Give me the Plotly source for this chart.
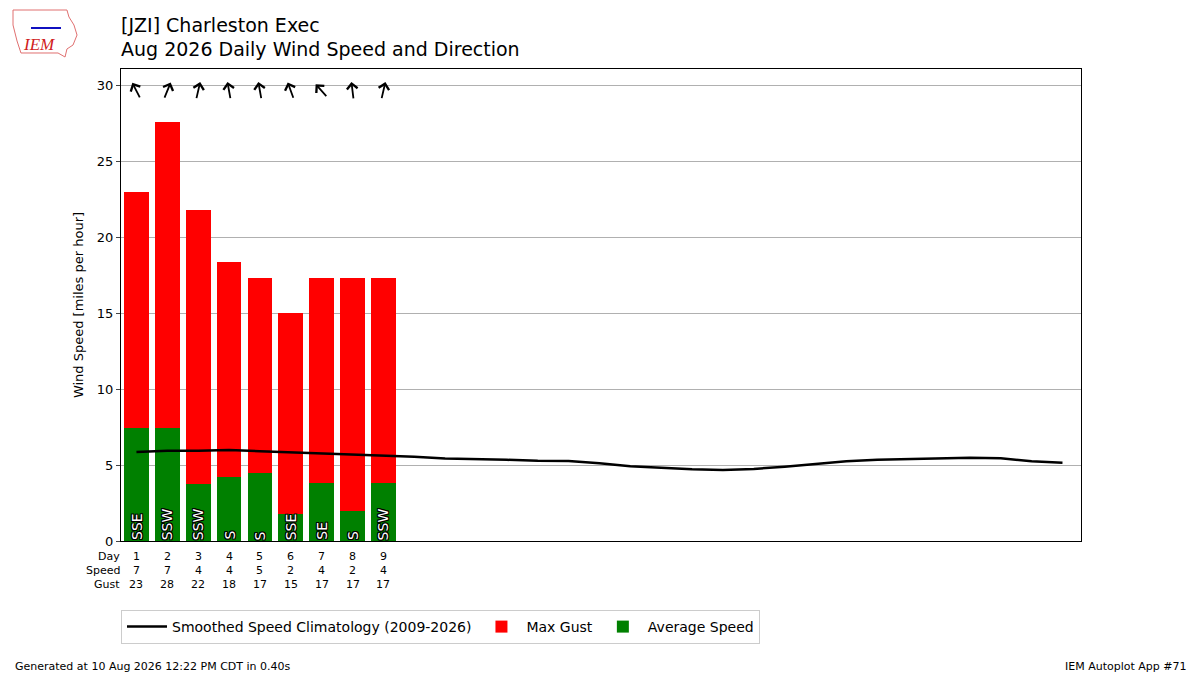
import math
import plotly.graph_objects as go

# observed days so far
days = [1, 2, 3, 4, 5, 6, 7, 8, 9]
max_gust = [23.0, 27.6, 21.8, 18.4, 17.3, 15.0, 17.3, 17.3, 17.3]
avg_speed = [7.45, 7.45, 3.75, 4.2, 4.5, 1.8, 3.85, 2.0, 3.8]
avg_dir_deg = [153, 202, 193, 170, 170, 160, 138, 173, 193]
avg_dir_txt = ['SSE', 'SSW', 'SSW', 'S', 'S', 'SSE', 'SE', 'S', 'SSW']
speed_lbl = [7, 7, 4, 4, 5, 2, 4, 2, 4]
gust_lbl = [23, 28, 22, 18, 17, 15, 17, 17, 17]

# smoothed climatology for whole month
clim_days = list(range(1, 32))
clim_speed = [5.87, 5.95, 5.95, 6.0, 5.92, 5.85, 5.75, 5.68, 5.6, 5.55,
              5.43, 5.4, 5.35, 5.28, 5.27, 5.12, 4.92, 4.82, 4.72, 4.68,
              4.75, 4.9, 5.08, 5.25, 5.35, 5.4, 5.45, 5.48, 5.45, 5.25, 5.15]

FONT = 'DejaVu Sans'
OFF = 7  # page body margin shifts the figure


# screen pixel -> paper coords (plot area is 120..1080 x 68..540 on screen)
def pxx(sx):
    return (sx - 120) / 960


def pxy(sy):
    return (540 - sy) / 472


fig = go.Figure()
fig.add_trace(go.Scatter(x=clim_days, y=clim_speed, mode='lines',
                         line=dict(color='black', width=2.5),
                         name='Smoothed Speed Climatology (2009-2026)'))
fig.add_trace(go.Bar(x=days, y=max_gust, marker=dict(color='#ff0000', line_width=0),
                     width=0.8, name='Max Gust'))
fig.add_trace(go.Bar(x=days, y=avg_speed, marker=dict(color='#008000', line_width=0),
                     width=0.8, name='Average Speed'))

# direction arrows near the top + direction labels in bars
px_x = 960 / 31.1
px_y = 472 / 31.1
half = 9
stroke = ('-1px -1px 0 #000, 1px -1px 0 #000, -1px 1px 0 #000, 1px 1px 0 #000, '
          '0 1px 0 #000, 0 -1px 0 #000, 1px 0 0 #000, -1px 0 0 #000')
for d, deg, txt in zip(days, avg_dir_deg, avg_dir_txt):
    dx = -math.sin(math.radians(deg))
    dy = -math.cos(math.radians(deg))
    fig.add_annotation(x=d + half * dx / px_x, y=29.66 + half * dy / px_y,
                       ax=-2 * half * dx, ay=2 * half * dy, text='', showarrow=True,
                       arrowhead=4, arrowsize=1.15, arrowwidth=1.8, arrowcolor='black')
    fig.add_annotation(x=d, y=0, yanchor='bottom', text=txt, showarrow=False,
                       textangle=-90, borderpad=0,
                       font=dict(family=FONT, size=14, color='white', shadow=stroke))

# table under the axis
rows = [('Day', days), ('Speed', speed_lbl), ('Gust', gust_lbl)]
for i, (lbl, vals) in enumerate(rows):
    yy = pxy(555 + i * 14)
    fig.add_annotation(x=pxx(121), xref='paper', y=yy, yref='paper', text=lbl,
                       xanchor='right', yanchor='middle', showarrow=False,
                       font=dict(family=FONT, size=11, color='black'))
    for d, v in zip(days, vals):
        fig.add_annotation(x=d, y=yy, yref='paper', text=str(v), showarrow=False,
                           xanchor='center', yanchor='middle',
                           font=dict(family=FONT, size=11, color='black'))

# titles
fig.add_annotation(x=pxx(118), y=pxy(24), xref='paper', yref='paper', xanchor='left',
                   yanchor='middle', text='[JZI] Charleston Exec', showarrow=False,
                   font=dict(family=FONT, size=19, color='black'))
fig.add_annotation(x=pxx(118), y=pxy(48), xref='paper', yref='paper', xanchor='left',
                   yanchor='middle', text='Aug 2026 Daily Wind Speed and Direction',
                   showarrow=False, font=dict(family=FONT, size=19, color='black'))

# footer
fig.add_annotation(x=pxx(12), y=pxy(665), xref='paper', yref='paper', xanchor='left',
                   yanchor='middle', text='Generated at 10 Aug 2026 12:22 PM CDT in 0.40s',
                   showarrow=False, font=dict(family=FONT, size=11, color='black'))
fig.add_annotation(x=pxx(1188), y=pxy(665), xref='paper', yref='paper', xanchor='right',
                   yanchor='middle', text='IEM Autoplot App #71',
                   showarrow=False, font=dict(family=FONT, size=11, color='black'))

# rough IEM logo
outline = [(12, 9), (66, 9), (68, 16), (73, 24), (76, 34), (72, 44), (66, 48),
           (64, 56), (57, 52), (20, 52), (16, 40), (12, 24)]
path = 'M ' + ' L '.join('%.4f %.4f' % (pxx(a), pxy(b)) for a, b in outline) + ' Z'
fig.add_shape(type='path', xref='paper', yref='paper', layer='above', path=path,
              line=dict(color='#e07070', width=1))
fig.add_shape(type='line', xref='paper', yref='paper', layer='above',
              x0=pxx(30), y0=pxy(27), x1=pxx(60), y1=pxy(27),
              line=dict(color='#1010c0', width=2))
fig.add_annotation(x=pxx(38), y=pxy(44), xref='paper', yref='paper',
                   text='<i>IEM</i>', showarrow=False, xanchor='center', yanchor='middle',
                   font=dict(family='Liberation Serif', size=17, color='#d02020'))

fig.update_layout(
    width=1200, height=675,
    margin=dict(l=120 - OFF, r=120 + OFF, t=68 - OFF, b=135 + OFF),
    paper_bgcolor='white', plot_bgcolor='white',
    barmode='overlay', bargap=0,
    font=dict(family=FONT, size=13, color='black'),
    legend=dict(orientation='h', x=0, xanchor='left', y=pxy(609), yanchor='top',
                bordercolor='#cccccc', borderwidth=1, font=dict(family=FONT, size=14),
                itemwidth=40, traceorder='normal'),
    xaxis=dict(range=[0.5, 31.6], showticklabels=False, ticks='', showgrid=False,
               showline=True, linecolor='black', linewidth=1, mirror=True, zeroline=False),
    yaxis=dict(range=[0, 31.1], tickvals=[0, 5, 10, 15, 20, 25, 30], ticks='outside',
               ticklen=4, showgrid=True, gridcolor='#b0b0b0', gridwidth=1,
               showline=True, linecolor='black', linewidth=1, mirror=True, zeroline=False,
               title=dict(text='Wind Speed [miles per hour]', font=dict(size=13), standoff=10)),
)

fig.write_html("out.html")
